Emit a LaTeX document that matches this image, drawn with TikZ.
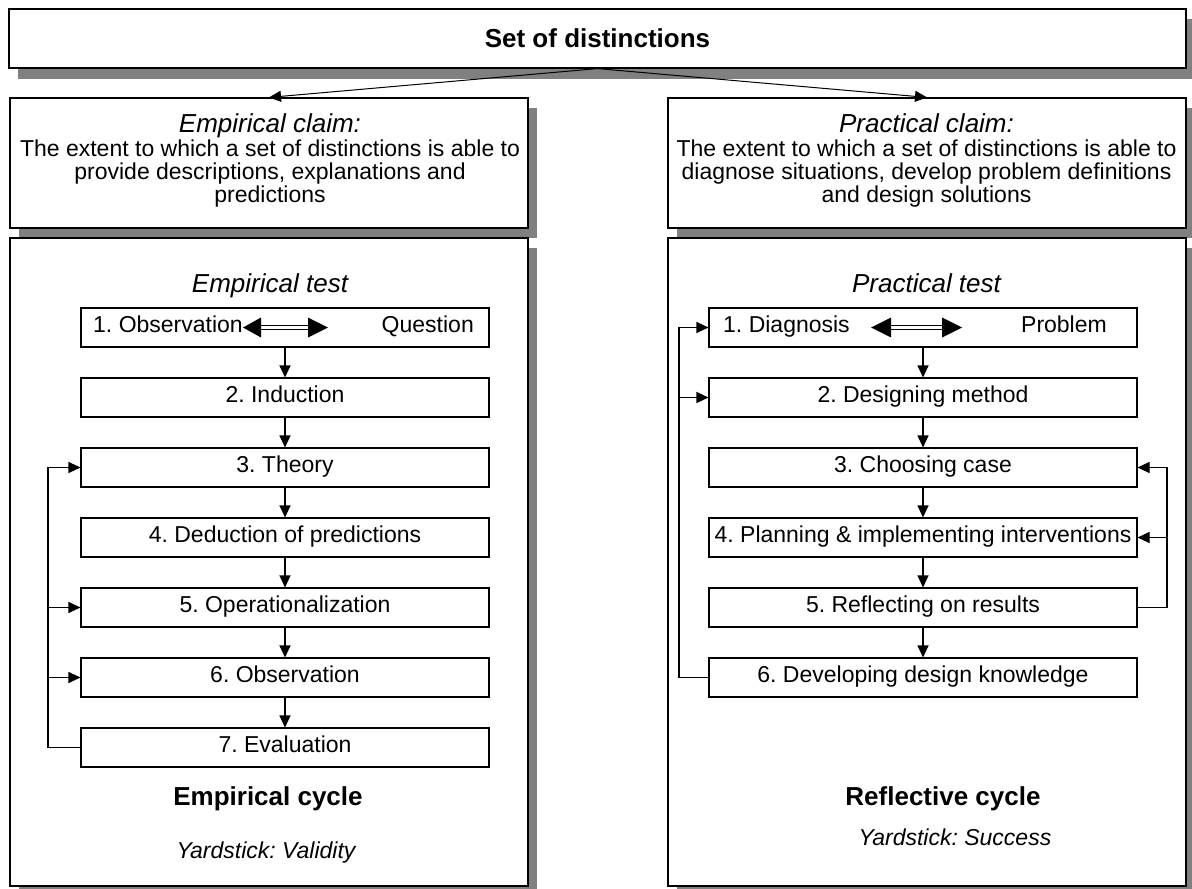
\documentclass[tikz,border=0pt]{standalone}
\usepackage{fontspec}
\setmainfont{Liberation Sans}
\usetikzlibrary{arrows.meta,shadows}
\definecolor{shadowgray}{RGB}{128,128,128}
\newcommand\myBody{\fontsize{23}{24}\selectfont}
\newcommand\myHead{\fontsize{26}{28}\selectfont}
\frenchspacing
\begin{document}
\begin{tikzpicture}[x=1pt,y=-1pt,
  frame/.style={draw=black,line width=1.2pt,fill=white,inner sep=0pt,
    drop shadow={shadow xshift=9pt,shadow yshift=-10pt,fill=shadowgray,opacity=1}},
  stepbox/.style={draw=black,line width=1.1pt,fill=white,inner sep=0pt,
    minimum height=39pt,text height=16pt,text depth=6pt,font=\myBody},
  lstep/.style={stepbox,minimum width=408pt},
  rstep/.style={stepbox,minimum width=428pt},
  conn/.style={line width=1.1pt,-{Triangle[length=12pt,width=11pt]}},
  bodytxt/.style={inner sep=0pt,anchor=base,font=\myBody},
  headtxt/.style={inner sep=0pt,anchor=base,font=\myHead\itshape},
  cyctxt/.style={inner sep=0pt,anchor=base,font=\myHead\bfseries},
  yardtxt/.style={inner sep=0pt,anchor=base,font=\myBody\itshape},
  dblhead/.style={fill=black},
  dblshaft/.style={draw=black,fill=white,line width=0.8pt}
]
\clip (0,0) rectangle (1192,889);
\useasboundingbox (0,0) rectangle (1192,889);
\fill[white] (0,0) rectangle (1192,889);

% top box
\node[frame,minimum width=1177pt,minimum height=59pt,font=\myHead\bfseries,
  drop shadow={shadow xshift=9pt,shadow yshift=-11pt,fill=shadowgray,opacity=1}] (title) at (597.5,38.5) {Set of distinctions};

% claim boxes
\node[frame,minimum width=518pt,minimum height=130pt] (lclaim) at (269,163) {};
\node[frame,minimum width=518pt,minimum height=130pt] (rclaim) at (927,163) {};

% test boxes
\node[frame,minimum width=518pt,minimum height=648pt] (ltest) at (269,562) {};
\node[frame,minimum width=518pt,minimum height=648pt] (rtest) at (927,562) {};

\draw[conn,line width=1pt] (title.south) -- (lclaim.north);
\draw[conn,line width=1pt] (title.south) -- (rclaim.north);

% claim texts
\node[headtxt] (lch) at (270,132) {Empirical claim:};
\node[bodytxt] (lc1) at (270,156) {The extent to which a set of distinctions is able to};
\node[bodytxt] (lc2) at (270,179) {provide descriptions, explanations and};
\node[bodytxt] (lc3) at (270,202) {predictions};

\node[headtxt] (rch) at (926.5,132) {Practical claim:};
\node[bodytxt] (rc1) at (926.5,156) {The extent to which a set of distinctions is able to};
\node[bodytxt] (rc2) at (926.5,179) {diagnose situations, develop problem definitions};
\node[bodytxt] (rc3) at (926.5,202) {and design solutions};

% test headings
\node[headtxt] (lth) at (270,292) {Empirical test};
\node[headtxt] (rth) at (926.5,292) {Practical test};

% left steps
\node[lstep] (L1) at (285,327.5) {};
\node[lstep] (L2) at (285,397.5) {2. Induction};
\node[lstep] (L3) at (285,467.5) {3. Theory};
\node[lstep] (L4) at (285,537.5) {4. Deduction of predictions};
\node[lstep] (L5) at (285,607.5) {5. Operationalization};
\node[lstep] (L6) at (285,677.5) {6. Observation};
\node[lstep] (L7) at (285,747.5) {7. Evaluation};
\node[bodytxt,anchor=west,text height=16pt,text depth=6pt] (L1a) at (93,327.5) {1. Observation};
\node[bodytxt,anchor=east,text height=16pt,text depth=6pt] (L1b) at (474,327.5) {Question};

% right steps
\node[rstep] (R1) at (923,327.5) {};
\node[rstep] (R2) at (923,397.5) {2. Designing method};
\node[rstep] (R3) at (923,467.5) {3. Choosing case};
\node[rstep] (R4) at (923,537.5) {4. Planning \& implementing interventions};
\node[rstep] (R5) at (923,607.5) {5. Reflecting on results};
\node[rstep] (R6) at (923,677.5) {6. Developing design knowledge};
\node[bodytxt,anchor=west,text height=16pt,text depth=6pt] (R1a) at (723,327.5) {1. Diagnosis};
\node[bodytxt,anchor=east,text height=16pt,text depth=6pt] (R1b) at (1107,327.5) {Problem};

% double arrows inside box 1
\coordinate (ldl) at (243,327.5);
\coordinate (ldr) at (328,327.5);
\draw[dblshaft] ([xshift=17pt,yshift=-2.2pt]ldl) rectangle ([xshift=-19pt,yshift=2.2pt]ldr);
\fill[dblhead] (ldl) -- ([xshift=18pt,yshift=-10pt]ldl) -- ([xshift=18pt,yshift=10pt]ldl) -- cycle;
\fill[dblhead] (ldr) -- ([xshift=-20pt,yshift=-10pt]ldr) -- ([xshift=-20pt,yshift=10pt]ldr) -- cycle;

\coordinate (rdl) at (871,327.5);
\coordinate (rdr) at (962,327.5);
\draw[dblshaft] ([xshift=19pt,yshift=-2.2pt]rdl) rectangle ([xshift=-19pt,yshift=2.2pt]rdr);
\fill[dblhead] (rdl) -- ([xshift=20pt,yshift=-10pt]rdl) -- ([xshift=20pt,yshift=10pt]rdl) -- cycle;
\fill[dblhead] (rdr) -- ([xshift=-20pt,yshift=-10pt]rdr) -- ([xshift=-20pt,yshift=10pt]rdr) -- cycle;

% down arrows
\foreach \a/\b in {L1/L2,L2/L3,L3/L4,L4/L5,L5/L6,L6/L7,R1/R2,R2/R3,R3/R4,R4/R5,R5/R6}
  \draw[conn] (\a.south) -- (\b.north);

% feedback loops
\coordinate (lbus) at (48,467.5);
\draw[conn] (L7.west) -| (lbus) -- (L3.west);
\draw[conn] (L5.west -| lbus) -- (L5.west);
\draw[conn] (L6.west -| lbus) -- (L6.west);

\coordinate (rbusL) at (679,327.5);
\draw[conn] (R6.west) -| (rbusL) -- (R1.west);
\draw[conn] (R2.west -| rbusL) -- (R2.west);

\coordinate (rbusR) at (1167,467.5);
\draw[conn] (R5.east) -| (rbusR) -- (R3.east);
\draw[conn] (R4.east -| rbusR) -- (R4.east);

% cycle labels
\node[cyctxt] (lcy) at (268,805) {Empirical cycle};
\node[yardtxt] (lyd) at (266,858) {Yardstick: Validity};
\node[cyctxt] (rcy) at (943,805) {Reflective cycle};
\node[yardtxt] (ryd) at (955,845) {Yardstick: Success};
\end{tikzpicture}
\end{document}
